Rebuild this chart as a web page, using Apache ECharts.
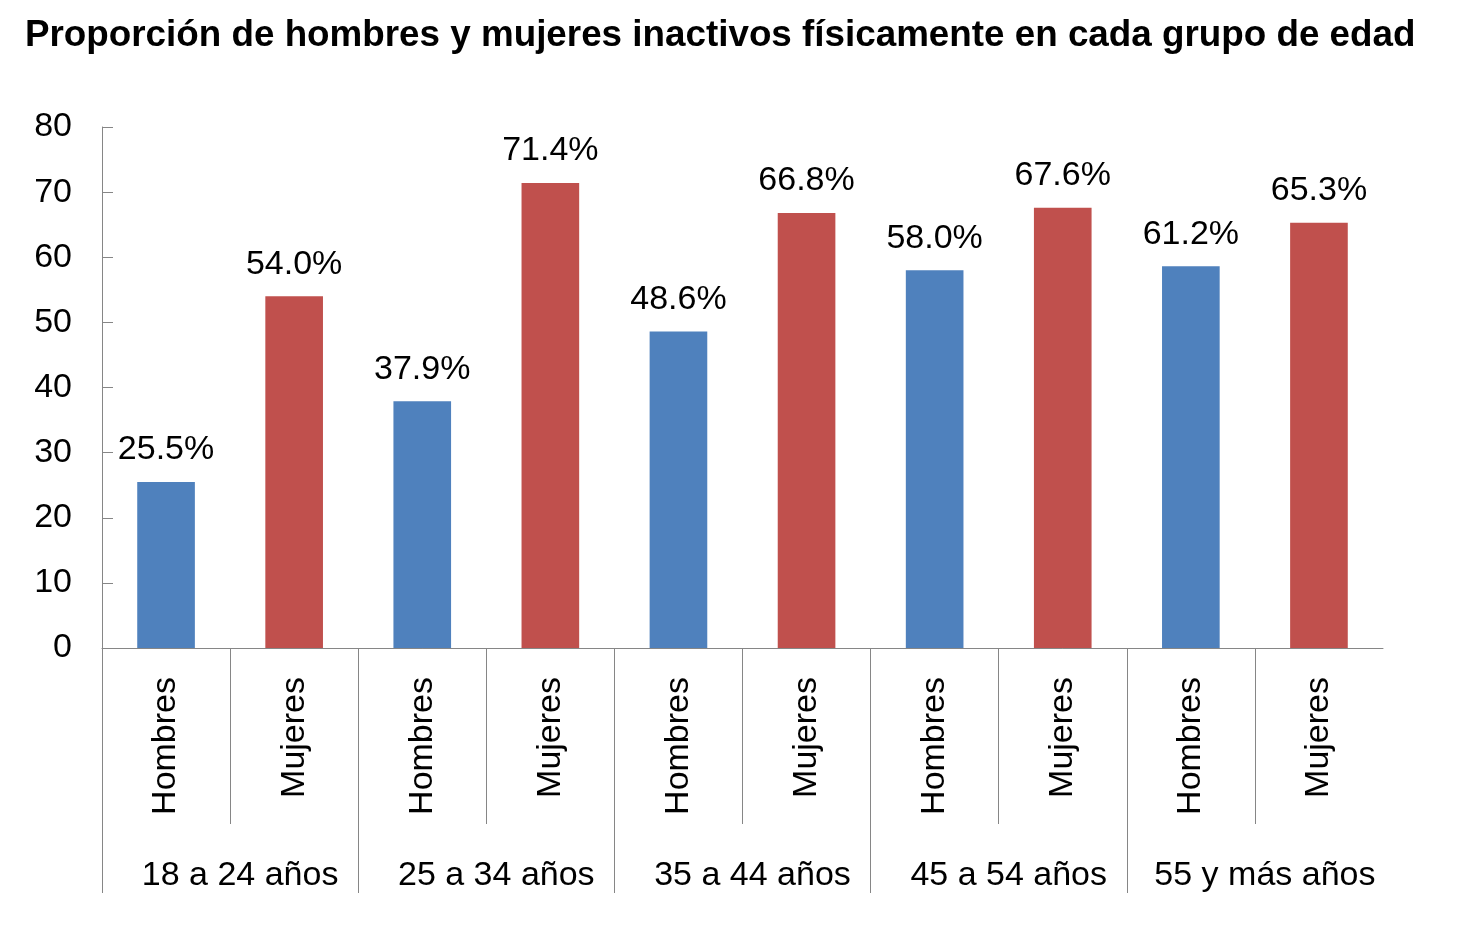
<!DOCTYPE html>
<html>
<head>
<meta charset="utf-8">
<script src="https://cdn.jsdelivr.net/npm/echarts@6/dist/echarts.min.js"></script>
<style>
html,body{margin:0;padding:0;background:#ffffff;}
#chart{width:1473px;height:929px;}
</style>
</head>
<body>
<div id="chart"></div>
<script>
// ---- data ----
const titleText = 'Proporción de hombres y mujeres inactivos físicamente en cada grupo de edad';
const groups = ['18 a 24 años', '25 a 34 años', '35 a 44 años', '45 a 54 años', '55 y más años'];
const sexes = ['Hombres', 'Mujeres'];
// bar heights as drawn in the picture
const barValues = [25.5, 54.0, 37.9, 71.4, 48.6, 66.8, 58.0, 67.6, 58.6, 65.3];
// printed data labels (%)
const labelValues = [25.5, 54.0, 37.9, 71.4, 48.6, 66.8, 58.0, 67.6, 61.2, 65.3];
const yMin = 0, yMax = 80, yStep = 10;
const sexColors = ['#4F81BD', '#C0504D'];

// ---- derived ----
const categories = [];
const catSex = [];
groups.forEach(function () {
  sexes.forEach(function (s, si) { categories.push(s); catSex.push(si); });
});
const nCat = categories.length;
// separators between sexes within a group, and between groups (in category units)
const innerSeps = [];
const groupSeps = [];
for (let i = 0; i < nCat; i++) {
  if (i % sexes.length === 0) groupSeps.push(i); else innerSeps.push(i);
}

const FONT = '"Liberation Sans", Arial, sans-serif';
const AXIS_COLOR = '#868686';
const FS = 34;

const chart = echarts.init(document.getElementById('chart'), null, {renderer: 'canvas'});
chart.setOption({
  backgroundColor: '#ffffff',
  animation: false,
  title: {
    text: titleText,
    left: 20,
    top: 12,
    textStyle: {fontFamily: FONT, fontSize: 36.8, fontWeight: 'bold', color: '#000000'}
  },
  grid: {left: 102, right: 90, top: 127, bottom: 281, containLabel: false},
  xAxis: [
    {
      type: 'category',
      position: 'bottom',
      data: categories,
      axisLine: {show: true, lineStyle: {color: AXIS_COLOR, width: 1}},
      axisTick: {show: false},
      axisLabel: {
        interval: 0, rotate: 90, margin: 29,
        fontFamily: FONT, fontSize: FS, color: '#000000'
      },
      splitLine: {show: false}
    },
    {
      type: 'category',
      position: 'bottom',
      data: groups,
      axisLine: {show: false},
      axisTick: {show: false},
      axisLabel: {
        interval: 0, margin: 211, padding: [0, 0, 0, 20],
        fontFamily: FONT, fontSize: FS, color: '#000000'
      },
      splitLine: {show: false}
    },
    {
      type: 'value',
      position: 'bottom',
      min: 0, max: nCat,
      axisLine: {show: false, onZero: false},
      axisLabel: {show: false},
      splitLine: {show: false},
      axisTick: {show: true, length: 176, customValues: innerSeps, lineStyle: {color: AXIS_COLOR, width: 1}}
    },
    {
      type: 'value',
      position: 'bottom',
      min: 0, max: nCat,
      axisLine: {show: false, onZero: false},
      axisLabel: {show: false},
      splitLine: {show: false},
      axisTick: {show: true, length: 245, customValues: groupSeps, lineStyle: {color: AXIS_COLOR, width: 1}}
    }
  ],
  yAxis: {
    type: 'value',
    min: yMin, max: yMax, interval: yStep,
    axisLine: {show: true, onZero: false, lineStyle: {color: AXIS_COLOR, width: 1}},
    axisTick: {show: true, inside: true, length: 11, lineStyle: {color: AXIS_COLOR, width: 1}},
    axisLabel: {margin: 30, fontFamily: FONT, fontSize: FS, color: '#000000'},
    splitLine: {show: false}
  },
  series: [{
    type: 'bar',
    xAxisIndex: 0,
    yAxisIndex: 0,
    barWidth: '45%',
    data: barValues.map(function (v, i) {
      return {value: v, itemStyle: {color: sexColors[catSex[i]]}};
    }),
    label: {
      show: true,
      position: 'top',
      distance: 15,
      fontFamily: FONT,
      fontSize: FS,
      color: '#000000',
      formatter: function (p) { return labelValues[p.dataIndex].toFixed(1) + '%'; }
    }
  }]
});
</script>
</body>
</html>
